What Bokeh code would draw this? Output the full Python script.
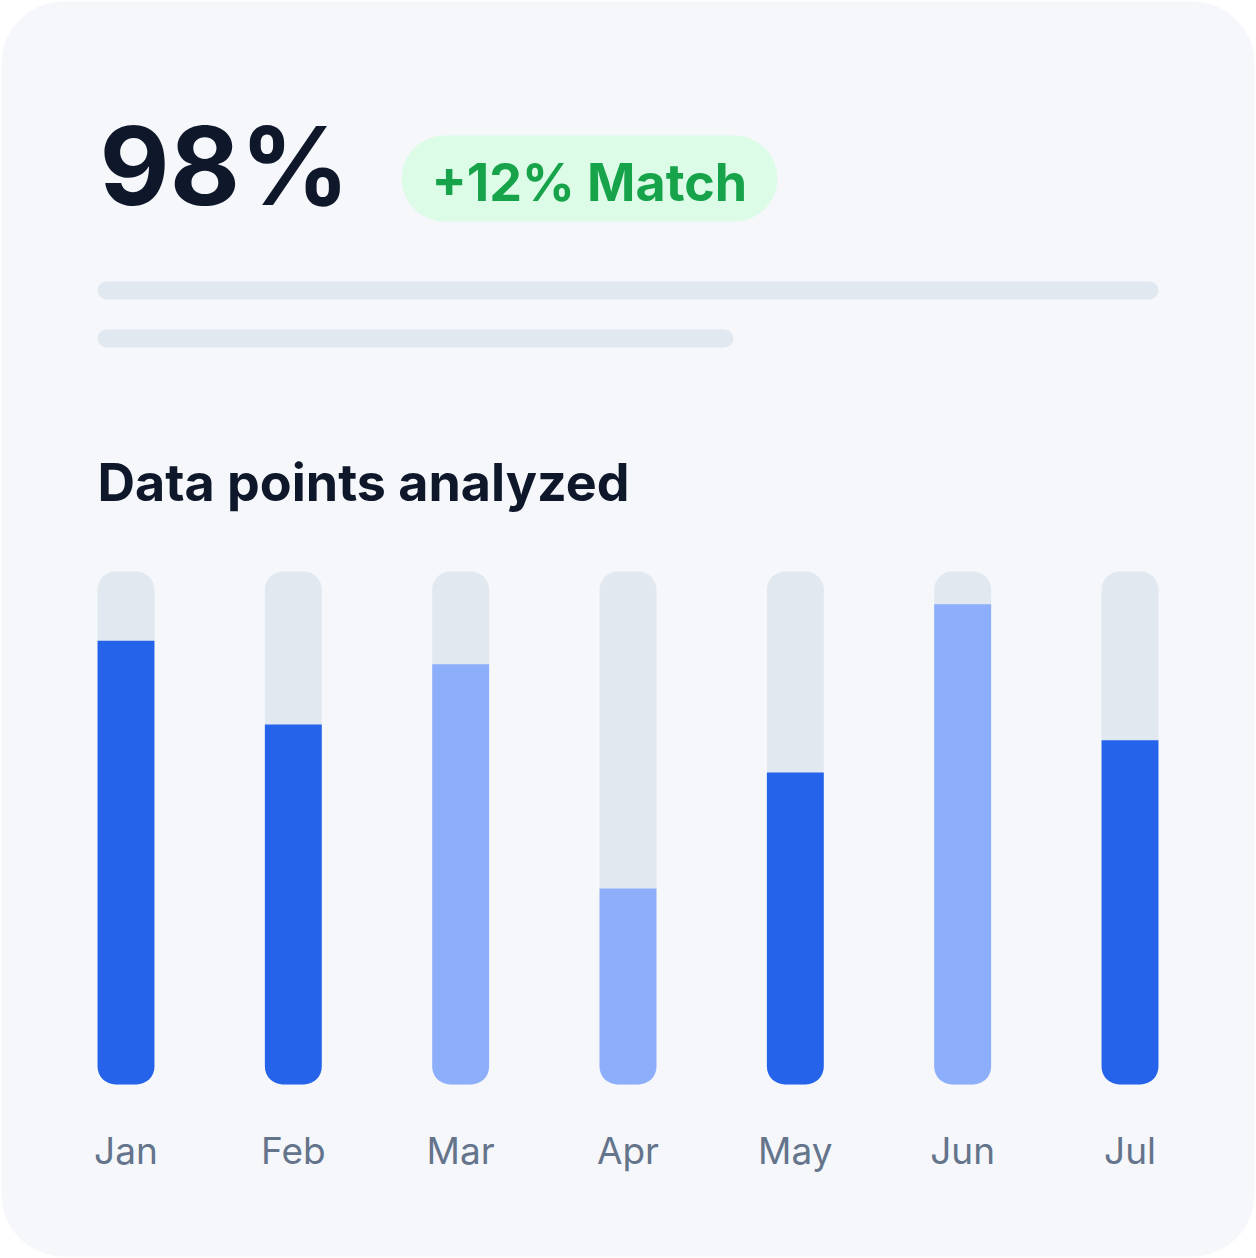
from bokeh.plotting import figure
from bokeh.models import Range1d, ColumnDataSource
from bokeh.core.properties import value
from bokeh.embed import file_html
from bokeh.resources import INLINE

# ---- data ----
months = ["Jan", "Feb", "Mar", "Apr", "May", "Jun", "Jul"]
analyzed = [86.5, 70.2, 81.9, 38.2, 60.8, 93.6, 67.1]   # % of capacity
tones = ["strong", "strong", "soft", "soft", "strong", "soft", "strong"]
capacity = [100] * len(months)
headline = "98%"
badge_text = "+12% Match"
subtitle = "Data points analyzed"

# ---- styles ----
CARD = "#F5F7FB"
TRACK = "#E2E8F0"
DARK = "#0F172A"
MUTED = "#64748B"
TONE_COLORS = {"strong": "#2563EB", "soft": "#8CAEFB"}
FONT = value("Inter")

W, H = 1256, 1258
src = ColumnDataSource(dict(
    idx=list(range(len(months))), month=months, analyzed=analyzed,
    capacity=capacity, color=[TONE_COLORS[t] for t in tones],
))

p = figure(
    width=W, height=H,
    x_range=Range1d(-0.75, 6.756),
    y_range=Range1d(-33.92, 211.31),
    x_axis_type=None, y_axis_type=None,
    output_backend="svg", toolbar_location=None, min_border=0,
    background_fill_color="white", border_fill_color="white",
)
p.outline_line_color = None
p.extra_x_ranges = {"px": Range1d(0, W)}
p.extra_y_ranges = {"px": Range1d(H, 0)}

# card
p.quad(left=1, right=1254, top=1, bottom=1256, fill_color=CARD, line_color=None,
       border_radius=62, x_range_name="px", y_range_name="px")

# headline
p.text(x=[99], y=[165], text=[headline], text_font=FONT, text_font_style="bold",
       text_font_size="108px", text_color=DARK, text_baseline="alphabetic",
       x_range_name="px", y_range_name="px")

# badge
p.quad(left=401, right=777, top=135, bottom=221, fill_color="#DCFCE7", line_color=None,
       border_radius=43, x_range_name="px", y_range_name="px")
p.text(x=[431], y=[182], text=[badge_text], text_font=FONT, text_font_style="bold",
       text_font_size="52px", text_color="#16A34A", text_baseline="alphabetic",
       x_range_name="px", y_range_name="px")

# skeleton lines
p.quad(left=[97, 97], right=[1158, 733], top=[281, 329], bottom=[299, 347],
       fill_color=TRACK, line_color=None, border_radius=9,
       x_range_name="px", y_range_name="px")

# subtitle
p.text(x=[97], y=[482], text=[subtitle], text_font=FONT, text_font_style="bold",
       text_font_size="52px", text_color=DARK, text_baseline="alphabetic",
       x_range_name="px", y_range_name="px")

# bars
p.vbar(x="idx", top="capacity", bottom=0, width=0.34, source=src,
       fill_color=TRACK, line_color=None, border_radius=18)
p.vbar(x="idx", top="analyzed", bottom=0, width=0.34, source=src,
       fill_color="color", line_color=None, border_radius=(0, 0, 18, 18))

# month labels
p.text(x="idx", y=-12.9, text="month", source=src, text_font=FONT,
       text_font_size="37px", text_color=MUTED, text_align="center",
       text_baseline="alphabetic")

open("out.html", "w").write(file_html(p, INLINE))
